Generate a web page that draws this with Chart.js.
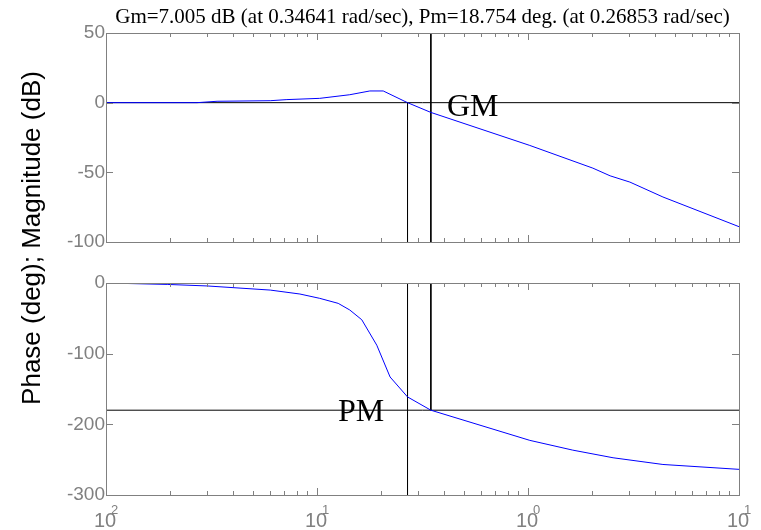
<!DOCTYPE html>
<html lang="en">
<head>
<meta charset="utf-8">
<script src="https://cdn.jsdelivr.net/npm/chart.js@4.4.0/dist/chart.umd.min.js"></script>
<style>
  body { margin: 0; background: #fff; }
  #wrap { position: relative; width: 761px; height: 530px; }
  #wrap canvas { position: absolute; left: 0; top: 0; }
</style>
</head>
<body>
<div id="wrap">
  <canvas id="magChart" width="761" height="530"></canvas>
  <canvas id="phaseChart" width="761" height="530"></canvas>
</div>
<script>
    const titleText = 'Gm=7.005 dB (at 0.34641 rad/sec), Pm=18.754 deg. (at 0.26853 rad/sec)';
    const yAxisTitle = 'Phase (deg); Magnitude (dB)';

    // magnitude curve (rad/sec, dB)
    const magFreq = [0.01, 0.027, 0.0336, 0.06, 0.072, 0.103, 0.143, 0.178, 0.206, 0.26853, 0.34641, 1.02, 2.03, 2.45, 3.04, 4.36, 10];
    const magDb   = [0, 0, 1.0, 1.4, 2.2, 3.1, 5.7, 8.4, 8.4, 0, -7.0, -30.7, -47, -52.5, -57, -67.7, -89];

    // phase curve (rad/sec, deg)
    const phaseFreq = [0.01, 0.0195, 0.0302, 0.06, 0.083, 0.103, 0.126, 0.143, 0.163, 0.192, 0.222, 0.26853, 0.34641, 1.02, 1.63, 2.53, 4.36, 5.67, 10];
    const phaseDeg  = [0, -2, -4.2, -10, -15.6, -21.7, -28.8, -38.2, -52, -88, -133, -161.2, -180, -222.7, -236.5, -247.3, -256.8, -259, -263.7];

    const gmFreq = 0.34641;
    const pmFreq = 0.26853;
    const freqRange = [0.01, 10];
    const magRange = [-100, 50];
    const phaseRange = [-300, 0];
    const magTicks = [50, 0, -50, -100];
    const phaseTicks = [0, -100, -200, -300];
    const decadeTicks = [0.01, 0.1, 1, 10];
    const decadeExps = ['2', '1', '0', '1'];   // as printed on the figure

    const gray = '#808080';
    const sansFont = '"Liberation Sans", Arial, sans-serif';
    const serifFont = '"Liberation Serif", "Times New Roman", serif';

    const pts = (xs, ys) => xs.map((x, i) => ({x: x, y: ys[i]}));
    const seg = (x0, y0, x1, y1) => [{x: x0, y: y0}, {x: x1, y: y1}];

    function lineSet(data, color) {
        return {data: data, borderColor: color, borderWidth: 1, showLine: true,
                pointRadius: 0, tension: 0, fill: false};
    }

    // box around the axes with inward tick marks, like the matlab figure
    const framePlugin = {
        id: 'frame',
        afterDatasetsDraw(chart) {
            const ctx = chart.ctx;
            const a = chart.chartArea;
            const xs = chart.scales.x, ys = chart.scales.y;
            ctx.save();
            ctx.strokeStyle = gray;
            ctx.lineWidth = 1;
            ctx.beginPath();
            for (let d = 0; d < decadeTicks.length; d++) {
                for (let m = 1; m < 10; m++) {
                    const v = decadeTicks[d] * m;
                    if (v > freqRange[1] * 1.0001) break;
                    const px = Math.round(xs.getPixelForValue(v)) + 0.5;
                    const len = m === 1 ? 7 : 4;
                    ctx.moveTo(px, a.top); ctx.lineTo(px, a.top + len);
                    ctx.moveTo(px, a.bottom); ctx.lineTo(px, a.bottom - len);
                }
            }
            ys.ticks.forEach(t => {
                const py = Math.round(ys.getPixelForValue(t.value)) + 0.5;
                ctx.moveTo(a.left, py); ctx.lineTo(a.left + 7, py);
                ctx.moveTo(a.right, py); ctx.lineTo(a.right - 7, py);
            });
            ctx.stroke();
            ctx.strokeRect(Math.round(a.left) + 0.5, Math.round(a.top) + 0.5,
                           Math.round(a.right - a.left), Math.round(a.bottom - a.top));
            ctx.restore();
        }
    };

    const magLabels = {
        id: 'magLabels',
        afterDraw(chart) {
            const ctx = chart.ctx;
            ctx.save();
            ctx.fillStyle = '#000';
            ctx.font = '32px ' + serifFont;
            ctx.textAlign = 'left';
            ctx.textBaseline = 'alphabetic';
            ctx.fillText('GM', 447, 116);
            ctx.restore();
        }
    };

    const phaseLabels = {
        id: 'phaseLabels',
        afterDraw(chart) {
            const ctx = chart.ctx;
            const xs = chart.scales.x;
            ctx.save();
            ctx.fillStyle = '#000';
            ctx.font = '32px ' + serifFont;
            ctx.textAlign = 'left';
            ctx.textBaseline = 'alphabetic';
            ctx.fillText('PM', 338, 421);

            // decade labels under the phase axes
            ctx.fillStyle = gray;
            decadeTicks.forEach((v, i) => {
                const px = xs.getPixelForValue(v);
                ctx.font = '20px ' + sansFont;
                ctx.textAlign = 'center';
                ctx.fillText('10', px - 1, 527);
                ctx.font = '13px ' + sansFont;
                ctx.textAlign = 'left';
                ctx.fillText(decadeExps[i], px + 5, 514);
            });

            // shared y label
            ctx.fillStyle = '#000';
            ctx.font = '26px ' + sansFont;
            ctx.translate(40, 238);
            ctx.rotate(-Math.PI / 2);
            ctx.textAlign = 'center';
            ctx.fillText(yAxisTitle, 0, 0);
            ctx.restore();
        }
    };

    function yScale(range, ticks) {
        return {
            type: 'linear', min: range[0], max: range[1],
            afterBuildTicks: s => { s.ticks = ticks.map(v => ({value: v})); },
            afterFit: s => { s.width = 50; },
            grid: {display: false, drawTicks: false},
            border: {display: false},
            ticks: {color: gray, padding: 1, font: {family: sansFont, size: 19}}
        };
    }

    const xScale = {type: 'logarithmic', min: freqRange[0], max: freqRange[1], display: false};

    const magChart = new Chart(document.getElementById('magChart'), {
        type: 'scatter',
        data: {
            datasets: [
                lineSet(pts(magFreq, magDb), '#0000ff'),
                lineSet(seg(freqRange[0], 0, freqRange[1], 0), '#000'),
                lineSet(seg(pmFreq, 0, pmFreq, magRange[0]), '#000'),
                lineSet(seg(gmFreq, magRange[1], gmFreq, magRange[0]), '#000')
            ]
        },
        options: {
            responsive: false,
            animation: false,
            layout: {padding: {left: 56, right: 22, top: 0, bottom: 288}},
            plugins: {
                legend: {display: false},
                tooltip: {enabled: false},
                title: {
                    display: true, text: titleText, fullSize: false, color: '#000',
                    font: {family: serifFont, size: 21, weight: 'normal', lineHeight: 1.2},
                    padding: {top: 4.4, bottom: 3.4}
                }
            },
            scales: {x: xScale, y: yScale(magRange, magTicks)}
        },
        plugins: [framePlugin, magLabels]
    });

    const phaseChart = new Chart(document.getElementById('phaseChart'), {
        type: 'scatter',
        data: {
            datasets: [
                lineSet(pts(phaseFreq, phaseDeg), '#0000ff'),
                lineSet(seg(freqRange[0], -180, freqRange[1], -180), '#000'),
                lineSet(seg(pmFreq, phaseRange[1], pmFreq, phaseRange[0]), '#000'),
                lineSet(seg(gmFreq, phaseRange[1], gmFreq, -180), '#000')
            ]
        },
        options: {
            responsive: false,
            animation: false,
            layout: {padding: {left: 56, right: 22, top: 283, bottom: 35}},
            plugins: {legend: {display: false}, tooltip: {enabled: false}},
            scales: {x: xScale, y: yScale(phaseRange, phaseTicks)}
        },
        plugins: [framePlugin, phaseLabels]
    });
</script>
</body>
</html>
